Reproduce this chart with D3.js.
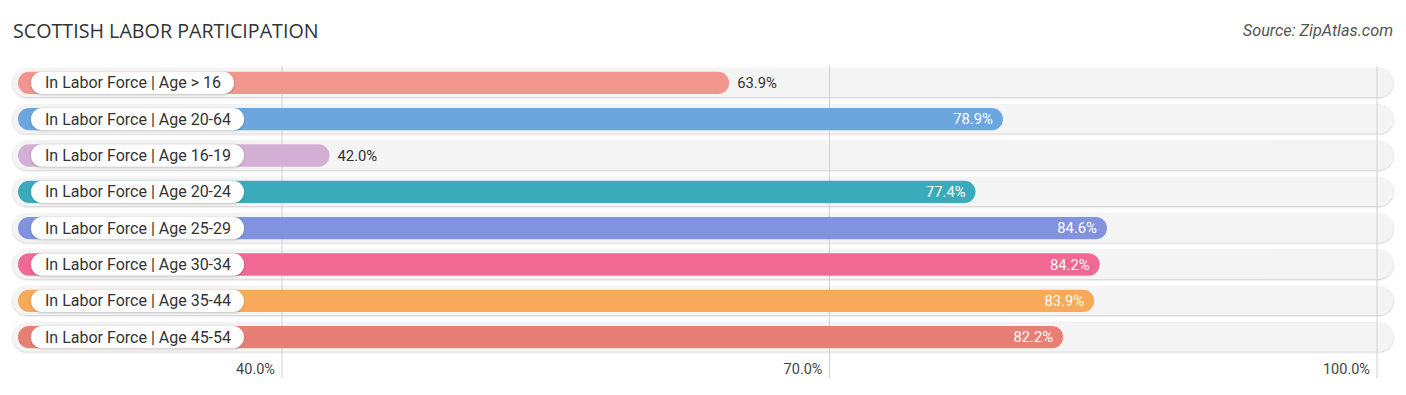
<!DOCTYPE html>
<html lang="en">
<head>
<meta charset="UTF-8">
<title>Scottish Labor Participation</title>
<script src="https://cdn.jsdelivr.net/npm/d3@7"></script>
<style>
    body { margin: 0; background: #fff; font-family: Roboto, "Open Sans", Arial, sans-serif; }
    svg { display: block; }
</style>
</head>
<body>
<svg id="chart" width="1406" height="395"></svg>
<script>
// data
const categories = [
    "In Labor Force | Age > 16",
    "In Labor Force | Age 20-64",
    "In Labor Force | Age 16-19",
    "In Labor Force | Age 20-24",
    "In Labor Force | Age 25-29",
    "In Labor Force | Age 30-34",
    "In Labor Force | Age 35-44",
    "In Labor Force | Age 45-54"
];
const values = [63.9, 78.9, 42.0, 77.4, 84.6, 84.2, 83.9, 82.2];
const colors = ["#f0968f", "#6ca6de", "#d4afd5", "#3aabbb", "#8193e0", "#f06893", "#f8aa5a", "#e87f74"];
const ticks = [40, 70, 100];

const svg = d3.select("#chart");

// scales
const x = d3.scaleLinear().domain([40, 100]).range([282, 1377]);
const y = d3.scaleBand().domain(categories).range([65, 355]).paddingInner(0.22).paddingOuter(0.1);

const trackLeft = 13, trackRight = 1393;
const barLeft = 18, capPad = 11;

// title + source
svg.append("text")
    .attr("x", 13).attr("y", 38)
    .attr("font-family", "'Open Sans', sans-serif")
    .attr("font-size", 19.7)
    .attr("fill", "#333")
    .text("SCOTTISH LABOR PARTICIPATION");

svg.append("text")
    .attr("x", 1393).attr("y", 36)
    .attr("text-anchor", "end")
    .attr("font-size", 16.3)
    .attr("font-style", "italic")
    .attr("fill", "#555")
    .text("Source: ZipAtlas.com");

const defs = svg.append("defs");
const f = defs.append("filter").attr("id", "shadow").attr("x", "-5%").attr("y", "-40%").attr("width", "110%").attr("height", "180%");
f.append("feDropShadow").attr("dx", 0).attr("dy", 0.6).attr("stdDeviation", 1.2).attr("flood-color", "#000").attr("flood-opacity", 0.28);

const bh = y.bandwidth();

// background tracks
svg.append("g").selectAll("rect")
    .data(categories)
    .join("rect")
    .attr("x", trackLeft)
    .attr("y", d => y(d))
    .attr("width", trackRight - trackLeft)
    .attr("height", bh)
    .attr("rx", bh / 2)
    .attr("fill", "#f4f4f4")
    .attr("filter", "url(#shadow)");

// gridlines, under the bars
svg.append("g").selectAll("line")
    .data(ticks)
    .join("line")
    .attr("x1", d => x(d)).attr("x2", d => x(d))
    .attr("y1", 66).attr("y2", 378)
    .attr("stroke", "#d0d0d0")
    .attr("stroke-width", 1);

const rows = svg.append("g").selectAll("g")
    .data(categories)
    .join("g")
    .attr("transform", d => `translate(0,${y(d)})`);

// bars
const inner = bh - 6;
rows.append("rect")
    .attr("x", barLeft)
    .attr("y", 3)
    .attr("width", (d, i) => x(values[i]) + capPad - barLeft)
    .attr("height", inner)
    .attr("rx", inner / 2)
    .attr("fill", (d, i) => colors[i]);

// label pills
rows.each(function(d) {
    const g = d3.select(this);
    const t = g.append("text")
        .attr("x", 45)
        .attr("y", bh / 2)
        .attr("dy", "0.35em")
        .attr("font-size", 16)
        .attr("fill", "#333")
        .text(d);
    const w = t.node().getComputedTextLength();
    g.insert("rect", "text")
        .attr("x", 31)
        .attr("y", 3)
        .attr("width", w + 27)
        .attr("height", inner)
        .attr("rx", inner / 2)
        .attr("fill", "#fff")
        .attr("filter", "url(#shadow)");
});

// value labels
rows.append("text")
    .attr("x", (d, i) => values[i] < 70 ? x(values[i]) + capPad + 8 : x(values[i]) + capPad - 10)
    .attr("y", bh / 2)
    .attr("dy", "0.35em")
    .attr("text-anchor", (d, i) => values[i] < 70 ? "start" : "end")
    .attr("font-size", 14.8)
    .attr("fill", (d, i) => values[i] < 70 ? "#333" : "#fff")
    .text((d, i) => values[i].toFixed(1) + "%");

// axis tick labels
svg.append("g").selectAll("text")
    .data(ticks)
    .join("text")
    .attr("x", d => x(d) - 7)
    .attr("y", 369)
    .attr("dy", "0.35em")
    .attr("text-anchor", "end")
    .attr("font-size", 14.5)
    .attr("fill", "#444")
    .text(d => d.toFixed(1) + "%");
</script>
</body>
</html>
